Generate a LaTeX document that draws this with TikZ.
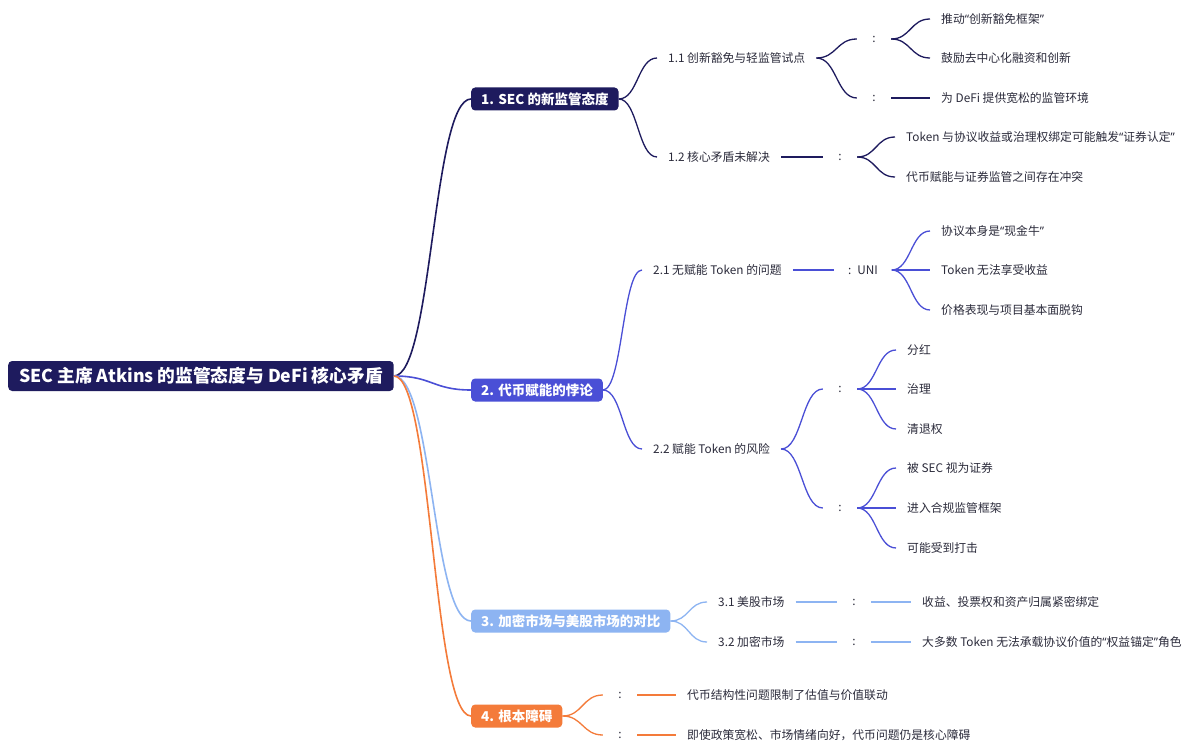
\documentclass[tikz,border=0pt]{standalone}
\usepackage{fontspec}
\setmainfont{Noto Sans CJK SC}
\newfontfamily\quotefont{Noto Sans}
\newcommand{\lqm}{{\quotefont “}}
\newcommand{\rqm}{{\quotefont ”}}
\usetikzlibrary{calc}
\definecolor{navy}{HTML}{1E1B5E}
\definecolor{violet}{HTML}{4A4FD6}
\definecolor{skyblue}{HTML}{8DB4F2}
\definecolor{tangerine}{HTML}{F47B3A}
\definecolor{textgray}{HTML}{2B2B3B}
\tikzset{
  rootbox/.style={anchor=west, rounded corners=4pt, fill=navy, text=white,
    font=\bfseries\fontsize{17.7}{20}\selectfont, inner xsep=11pt, minimum height=30pt},
  mainbox/.style={anchor=west, rounded corners=4pt, text=white,
    font=\bfseries\fontsize{13.5}{15}\selectfont, inner xsep=10pt, minimum height=23pt},
  topic/.style={anchor=west, text=textgray, font=\fontsize{11.8}{13}\selectfont,
    inner xsep=11pt, inner ysep=3pt},
  colon/.style={text=textgray, font=\fontsize{11.8}{13}\selectfont,
    minimum width=34pt, inner xsep=0pt},
  curvy/.style={to path={let \p1=(\tikztostart), \p2=(\tikztotarget) in
    (\p1) .. controls ({0.5*\x1+0.5*\x2},\y1) and ({0.5*\x1+0.5*\x2},\y2) .. (\p2)}},
  link/.style={line width=1.3pt, curvy},
  trunk/.style={line width=1.6pt, curvy},
}
\begin{document}
\begin{tikzpicture}[x=1pt,y=-1pt]
        \useasboundingbox[fill=white] (0,0) rectangle (1200,754);
        \node[rootbox] (root) at (8,376) {SEC 主席 Atkins 的监管态度与 DeFi 核心矛盾};

        \begin{scope}[navy]
        \node[mainbox, fill=navy] (b1) at (471,99) {1. SEC 的新监管态度};
        \node[topic] (n11) at (657,58) {1.1 创新豁免与轻监管试点};
        \node[topic] (n12) at (657,157) {1.2 核心矛盾未解决};
        \node[colon] (c111) at (874,39) {:};
        \node[colon] (c112) at (874,98) {:};
        \node[colon] (c121) at (840,157) {:};
        \node[topic] (l1111) at (930,19) {推动\lqm 创新豁免框架\rqm};
        \node[topic] (l1112) at (930,58) {鼓励去中心化融资和创新};
        \node[topic] (l1121) at (930,98) {为 DeFi 提供宽松的监管环境};
        \node[topic] (l1211) at (895,137) {Token 与协议收益或治理权绑定可能触发\lqm 证券认定\rqm};
        \node[topic] (l1212) at (895,177) {代币赋能与证券监管之间存在冲突};
        \draw[trunk] (root.east) to (b1.west);
        \draw[link] (b1.east) to (n11.west);
        \draw[link] (b1.east) to (n12.west);
        \draw[link] (n11.east) to (c111.west);
        \draw[link] (n11.east) to (c112.west);
        \draw[link] (n12.east) to (c121.west);
        \draw[link] (c111.east) to (l1111.west);
        \draw[link] (c111.east) to (l1112.west);
        \draw[link] (c112.east) to (l1121.west);
        \draw[link] (c121.east) to (l1211.west);
        \draw[link] (c121.east) to (l1212.west);
        \end{scope}

        \begin{scope}[violet]
        \node[mainbox, fill=violet] (b2) at (471,390) {2. 代币赋能的悖论};
        \node[topic] (n21) at (642,270) {2.1 无赋能 Token 的问题};
        \node[topic] (n22) at (642,449) {2.2 赋能 Token 的风险};
        \node[colon, minimum width=57pt] (c211) at (863,270) {:\hspace{6pt}UNI};
        \node[colon] (c221) at (840,389) {:};
        \node[colon] (c222) at (840,508) {:};
        \node[topic] (l2111) at (930,231) {协议本身是\lqm 现金牛\rqm};
        \node[topic] (l2112) at (930,270) {Token 无法享受收益};
        \node[topic] (l2113) at (930,310) {价格表现与项目基本面脱钩};
        \node[topic] (l2211) at (896,350) {分红};
        \node[topic] (l2212) at (896,389) {治理};
        \node[topic] (l2213) at (896,429) {清退权};
        \node[topic] (l2221) at (896,468) {被 SEC 视为证券};
        \node[topic] (l2222) at (896,508) {进入合规监管框架};
        \node[topic] (l2223) at (896,548) {可能受到打击};
        \draw[trunk] (root.east) to (b2.west);
        \draw[link] (b2.east) to (n21.west);
        \draw[link] (b2.east) to (n22.west);
        \draw[link] (n21.east) to (c211.west);
        \draw[link] (n22.east) to (c221.west);
        \draw[link] (n22.east) to (c222.west);
        \draw[link] (c211.east) to (l2111.west);
        \draw[link] (c211.east) to (l2112.west);
        \draw[link] (c211.east) to (l2113.west);
        \draw[link] (c221.east) to (l2211.west);
        \draw[link] (c221.east) to (l2212.west);
        \draw[link] (c221.east) to (l2213.west);
        \draw[link] (c222.east) to (l2221.west);
        \draw[link] (c222.east) to (l2222.west);
        \draw[link] (c222.east) to (l2223.west);
        \end{scope}

        \begin{scope}[skyblue]
        \node[mainbox, fill=skyblue] (b3) at (471,621) {3. 加密市场与美股市场的对比};
        \node[topic] (n31) at (707,602) {3.1 美股市场};
        \node[topic] (n32) at (707,642) {3.2 加密市场};
        \node[colon] (c311) at (854,602) {:};
        \node[colon] (c321) at (854,642) {:};
        \node[topic] (l3111) at (911,602) {收益、投票权和资产归属紧密绑定};
        \node[topic] (l3211) at (911,642) {大多数 Token 无法承载协议价值的\lqm 权益锚定\rqm 角色};
        \draw[trunk] (root.east) to (b3.west);
        \draw[link] (b3.east) to (n31.west);
        \draw[link] (b3.east) to (n32.west);
        \draw[link] (n31.east) to (c311.west);
        \draw[link] (n32.east) to (c321.west);
        \draw[link] (c311.east) to (l3111.west);
        \draw[link] (c321.east) to (l3211.west);
        \end{scope}

        \begin{scope}[tangerine]
        \node[mainbox, fill=tangerine] (b4) at (471,716) {4. 根本障碍};
        \node[colon] (c41) at (620,695) {:};
        \node[colon] (c42) at (620,735) {:};
        \node[topic] (l411) at (676,695) {代币结构性问题限制了估值与价值联动};
        \node[topic] (l421) at (676,735) {即使政策宽松、市场情绪向好，代币问题仍是核心障碍};
        \draw[trunk] (root.east) to (b4.west);
        \draw[link] (b4.east) to (c41.west);
        \draw[link] (b4.east) to (c42.west);
        \draw[link] (c41.east) to (l411.west);
        \draw[link] (c42.east) to (l421.west);
        \end{scope}
        \end{tikzpicture}
\end{document}
